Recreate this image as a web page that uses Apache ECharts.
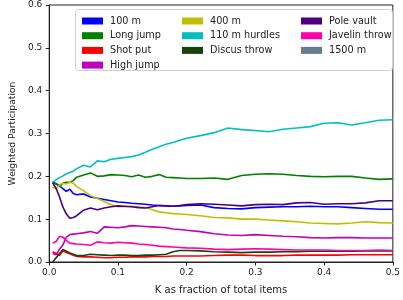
<!DOCTYPE html>
<html>
<head>
<meta charset="utf-8">
<script src="https://cdn.jsdelivr.net/npm/echarts@6/dist/echarts.min.js"></script>
<style>
  html, body { margin: 0; padding: 0; background: #fff; }
  #chart { width: 403px; height: 300px; }
</style>
</head>
<body>
<div id="chart"></div>
<script>
// K as fraction of total items
const kValues = [0.005, 0.01, 0.015, 0.02, 0.025, 0.03, 0.035, 0.04, 0.05, 0.06, 0.07, 0.08, 0.09, 0.1,
  0.11, 0.12, 0.13, 0.14, 0.15, 0.16, 0.17, 0.18, 0.19, 0.2, 0.22, 0.24, 0.26, 0.28, 0.3,
  0.32, 0.34, 0.36, 0.38, 0.4, 0.42, 0.44, 0.46, 0.48, 0.5];

const m100 = [0.185, 0.183, 0.178, 0.171, 0.165, 0.17, 0.16, 0.157, 0.159, 0.152, 0.149, 0.146, 0.143, 0.14,
  0.139, 0.137, 0.136, 0.135, 0.133, 0.132, 0.131, 0.13, 0.131, 0.132, 0.133, 0.127, 0.125, 0.124, 0.127,
  0.128, 0.129, 0.129, 0.13, 0.129, 0.129, 0.127, 0.125, 0.123, 0.123];
const longJump = [0.188, 0.182, 0.176, 0.184, 0.186, 0.186, 0.19, 0.198, 0.203, 0.208, 0.2, 0.201, 0.204, 0.203,
  0.202, 0.199, 0.203, 0.198, 0.2, 0.204, 0.198, 0.197, 0.196, 0.195, 0.195, 0.196, 0.193, 0.202, 0.205,
  0.206, 0.205, 0.202, 0.2, 0.199, 0.2, 0.2, 0.196, 0.193, 0.194];
const shotPut = [0.024, 0.02, 0.015, 0.026, 0.022, 0.019, 0.016, 0.013, 0.012, 0.012, 0.011, 0.01, 0.01, 0.011,
  0.011, 0.012, 0.012, 0.012, 0.013, 0.013, 0.013, 0.014, 0.014, 0.014, 0.014, 0.015, 0.016, 0.016, 0.015,
  0.015, 0.015, 0.016, 0.016, 0.016, 0.016, 0.017, 0.017, 0.017, 0.017];
const highJump = [0.02, 0.017, 0.03, 0.04, 0.058, 0.064, 0.065, 0.066, 0.068, 0.071, 0.067, 0.082, 0.081, 0.08,
  0.082, 0.085, 0.084, 0.083, 0.082, 0.081, 0.08, 0.077, 0.076, 0.074, 0.071, 0.066, 0.063, 0.062, 0.064,
  0.062, 0.06, 0.059, 0.057, 0.056, 0.057, 0.057, 0.056, 0.056, 0.056];
const m400 = [0.175, 0.171, 0.18, 0.184, 0.182, 0.187, 0.184, 0.176, 0.166, 0.155, 0.148, 0.141, 0.134, 0.129,
  0.129, 0.13, 0.129, 0.127, 0.122, 0.117, 0.115, 0.113, 0.112, 0.111, 0.108, 0.104, 0.103, 0.1, 0.1,
  0.098, 0.096, 0.094, 0.091, 0.09, 0.089, 0.091, 0.094, 0.092, 0.091];
const hurdles110 = [0.185, 0.192, 0.197, 0.201, 0.206, 0.209, 0.212, 0.218, 0.226, 0.222, 0.236, 0.234, 0.24, 0.242,
  0.244, 0.246, 0.25, 0.256, 0.263, 0.269, 0.275, 0.279, 0.284, 0.289, 0.295, 0.302, 0.313, 0.309, 0.307,
  0.304, 0.31, 0.313, 0.316, 0.324, 0.325, 0.32, 0.325, 0.331, 0.332];
const discus = [0.0, 0.01, 0.02, 0.029, 0.025, 0.021, 0.018, 0.015, 0.015, 0.018, 0.017, 0.016, 0.015, 0.016,
  0.016, 0.015, 0.015, 0.016, 0.016, 0.017, 0.018, 0.024, 0.027, 0.027, 0.026, 0.024, 0.023, 0.022, 0.023,
  0.023, 0.024, 0.024, 0.025, 0.025, 0.025, 0.025, 0.026, 0.026, 0.026];
const poleVault = [0.185, 0.172, 0.152, 0.128, 0.112, 0.102, 0.104, 0.108, 0.121, 0.126, 0.122, 0.126, 0.129, 0.131,
  0.13, 0.129, 0.127, 0.126, 0.129, 0.132, 0.131, 0.13, 0.132, 0.134, 0.136, 0.135, 0.133, 0.131, 0.134,
  0.135, 0.134, 0.138, 0.139, 0.135, 0.136, 0.136, 0.138, 0.143, 0.143];
const javelin = [0.044, 0.048, 0.06, 0.058, 0.05, 0.044, 0.043, 0.042, 0.041, 0.039, 0.047, 0.045, 0.044, 0.046,
  0.045, 0.044, 0.042, 0.041, 0.039, 0.037, 0.036, 0.035, 0.034, 0.033, 0.032, 0.03, 0.029, 0.03, 0.031,
  0.03, 0.029, 0.028, 0.028, 0.028, 0.027, 0.027, 0.027, 0.028, 0.027];
const m1500 = [];

const seriesDefs = [
  { name: '100 m', values: m100, color: '#0000ff' },
  { name: 'Long jump', values: longJump, color: '#008000' },
  { name: 'Shot put', values: shotPut, color: '#ff0000' },
  { name: 'High jump', values: highJump, color: '#bf00bf' },
  { name: '400 m', values: m400, color: '#bfbf00' },
  { name: '110 m hurdles', values: hurdles110, color: '#00bfbf' },
  { name: 'Discus throw', values: discus, color: '#1a420c' },
  { name: 'Pole vault', values: poleVault, color: '#4b0082' },
  { name: 'Javelin throw', values: javelin, color: '#ff00aa' },
  { name: '1500 m', values: m1500, color: '#647d8f' }
];

const font = 'DejaVu Sans';
// matplotlib fills the legend column by column (4, 3, 3)
const legendColumns = [
  ['100 m', 'Long jump', 'Shot put', 'High jump'],
  ['400 m', '110 m hurdles', 'Discus throw'],
  ['Pole vault', 'Javelin throw', '1500 m']
];
const legendLeft = [77, 177, 296];

const chart = echarts.init(document.getElementById('chart'));
chart.setOption({
  animation: false,
  backgroundColor: '#fff',
  grid: {
    left: 45, right: 7, top: 5, bottom: 34,
    show: true, borderColor: '#222', borderWidth: 1
  },
  graphic: [{
    type: 'rect', left: 75, top: 9, z: 5,
    shape: { width: 317, height: 61, r: 3 },
    style: { fill: 'rgba(255,255,255,0.8)', stroke: '#d0d0d0', lineWidth: 1 }
  }],
  legend: legendColumns.map((names, i) => ({
    data: names,
    orient: 'vertical',
    left: legendLeft[i],
    top: 10,
    z: 10,
    icon: 'rect',
    itemWidth: 21,
    itemHeight: 7,
    itemGap: 2.7,
    selectedMode: false,
    textStyle: { fontFamily: font, fontSize: 9.7, color: '#222', lineHeight: 12, padding: [0, 0, 0, 2] }
  })),
  xAxis: {
    type: 'value', min: 0, max: 0.5, interval: 0.1,
    name: 'K as fraction of total items',
    nameLocation: 'middle', nameGap: 23,
    nameTextStyle: { fontFamily: font, fontSize: 10, color: '#222' },
    axisLine: { lineStyle: { color: '#222' } },
    axisTick: { length: 3.5, lineStyle: { color: '#222' } },
    axisLabel: {
      fontFamily: font, fontSize: 9, color: '#222', margin: 6,
      formatter: v => v.toFixed(1)
    },
    splitLine: { show: false }
  },
  yAxis: {
    type: 'value', min: 0, max: 0.6, interval: 0.1,
    name: 'Weighted Participation',
    nameLocation: 'middle', nameGap: 30,
    nameTextStyle: { fontFamily: font, fontSize: 9.2, color: '#222' },
    axisLine: { show: true, lineStyle: { color: '#222' } },
    axisTick: { show: true, length: 3.5, lineStyle: { color: '#222' } },
    axisLabel: {
      fontFamily: font, fontSize: 9, color: '#222', margin: 7,
      formatter: v => v.toFixed(1)
    },
    splitLine: { show: false }
  },
  series: seriesDefs.map(s => ({
    name: s.name,
    type: 'line',
    data: s.values.map((v, i) => [kValues[i], v]),
    showSymbol: false,
    symbol: 'none',
    color: s.color,
    lineStyle: { color: s.color, width: 1.6 },
    itemStyle: { color: s.color }
  }))
});
</script>
</body>
</html>
